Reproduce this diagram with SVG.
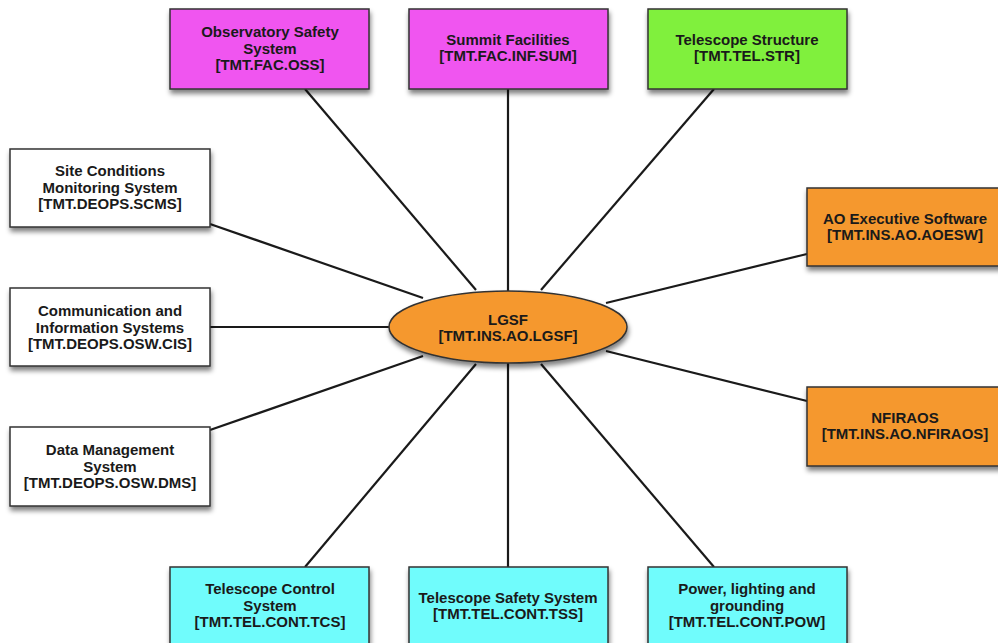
<svg xmlns="http://www.w3.org/2000/svg" width="998" height="643" viewBox="0 0 998 643">
<defs>
<filter id="sh" x="-10%" y="-10%" width="130%" height="140%">
<feGaussianBlur in="SourceAlpha" stdDeviation="2.5"/>
<feOffset dx="1" dy="4" result="b"/>
<feComponentTransfer><feFuncA type="linear" slope="0.5"/></feComponentTransfer>
<feMerge><feMergeNode/><feMergeNode in="SourceGraphic"/></feMerge>
</filter>
<style>
.box{stroke:#333;stroke-width:1.5;filter:url(#sh)}
.mag{fill:#f055f0}
.grn{fill:#80f03c}
.wht{fill:#ffffff}
.org{fill:#f5982e}
.cyn{fill:#70fcfc}
.t{font-family:"Liberation Sans",Arial,sans-serif;font-weight:bold;font-size:15px;fill:#1a1a1a;text-anchor:middle}
.c{stroke:#1a1a1a;stroke-width:2.2;fill:none}
</style>
</defs>
<rect width="998" height="643" fill="#ffffff"/>
<g id="connectors">
<line class="c" x1="305" y1="89" x2="476" y2="290"/>
<line class="c" x1="508" y1="89" x2="508" y2="292"/>
<line class="c" x1="714" y1="89" x2="541" y2="290"/>
<line class="c" x1="210" y1="224" x2="423" y2="298"/>
<line class="c" x1="210" y1="327" x2="390" y2="327"/>
<line class="c" x1="210" y1="430" x2="423" y2="356"/>
<line class="c" x1="807" y1="254" x2="606" y2="303"/>
<line class="c" x1="807" y1="401" x2="606" y2="351"/>
<line class="c" x1="305" y1="567" x2="476" y2="364"/>
<line class="c" x1="508" y1="567" x2="508" y2="363"/>
<line class="c" x1="714" y1="567" x2="541" y2="364"/>
</g>
<g id="lgsf">
<ellipse class="box org" cx="508" cy="327" rx="119" ry="36"/>
<text class="t" x="508" y="325">LGSF</text>
<text class="t" x="508" y="341">[TMT.INS.AO.LGSF]</text>
</g>
<g id="oss">
<rect class="box mag" x="170" y="9" width="199" height="80"/>
<text class="t" x="270" y="37">Observatory Safety</text>
<text class="t" x="270" y="53.5">System</text>
<text class="t" x="270" y="70">[TMT.FAC.OSS]</text>
</g>
<g id="sum">
<rect class="box mag" x="409" y="9" width="199" height="80"/>
<text class="t" x="508" y="45">Summit Facilities</text>
<text class="t" x="508" y="61">[TMT.FAC.INF.SUM]</text>
</g>
<g id="str">
<rect class="box grn" x="648" y="9" width="199" height="80"/>
<text class="t" x="747" y="45">Telescope Structure</text>
<text class="t" x="747" y="61">[TMT.TEL.STR]</text>
</g>
<g id="scms">
<rect class="box wht" x="10" y="149" width="200" height="78"/>
<text class="t" x="110" y="176">Site Conditions</text>
<text class="t" x="110" y="192.5">Monitoring System</text>
<text class="t" x="110" y="209">[TMT.DEOPS.SCMS]</text>
</g>
<g id="cis">
<rect class="box wht" x="10" y="288" width="200" height="78"/>
<text class="t" x="110" y="316">Communication and</text>
<text class="t" x="110" y="332.5">Information Systems</text>
<text class="t" x="110" y="349">[TMT.DEOPS.OSW.CIS]</text>
</g>
<g id="dms">
<rect class="box wht" x="10" y="427" width="200" height="79"/>
<text class="t" x="110" y="455">Data Management</text>
<text class="t" x="110" y="471.5">System</text>
<text class="t" x="110" y="488">[TMT.DEOPS.OSW.DMS]</text>
</g>
<g id="aoesw">
<rect class="box org" x="807" y="188" width="200" height="78"/>
<text class="t" x="905" y="224">AO Executive Software</text>
<text class="t" x="905" y="240">[TMT.INS.AO.AOESW]</text>
</g>
<g id="nfiraos">
<rect class="box org" x="807" y="387" width="200" height="79"/>
<text class="t" x="905" y="423">NFIRAOS</text>
<text class="t" x="905" y="439">[TMT.INS.AO.NFIRAOS]</text>
</g>
<g id="tcs">
<rect class="box cyn" x="170" y="567" width="199" height="85"/>
<text class="t" x="270" y="594">Telescope Control</text>
<text class="t" x="270" y="610.5">System</text>
<text class="t" x="270" y="627">[TMT.TEL.CONT.TCS]</text>
</g>
<g id="tss">
<rect class="box cyn" x="409" y="567" width="199" height="85"/>
<text class="t" x="508" y="603">Telescope Safety System</text>
<text class="t" x="508" y="619">[TMT.TEL.CONT.TSS]</text>
</g>
<g id="pow">
<rect class="box cyn" x="648" y="567" width="199" height="85"/>
<text class="t" x="747" y="594">Power, lighting and</text>
<text class="t" x="747" y="610.5">grounding</text>
<text class="t" x="747" y="627">[TMT.TEL.CONT.POW]</text>
</g>
</svg>
